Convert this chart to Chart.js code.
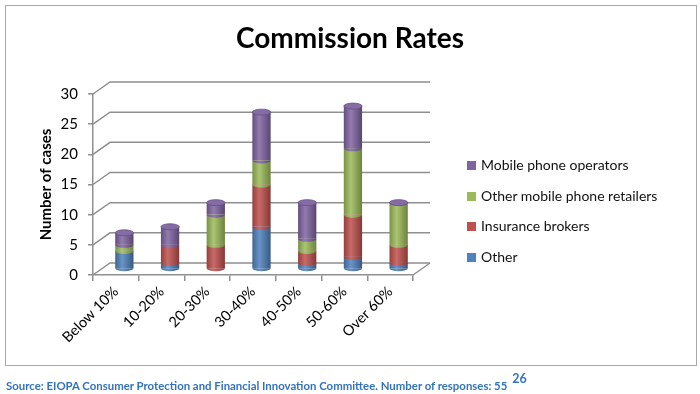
<!DOCTYPE html>
<html>
<head>
<meta charset="utf-8">
<script src="https://cdn.jsdelivr.net/npm/chart.js@4.4.1/dist/chart.umd.min.js"></script>
<style>
  html, body { margin: 0; padding: 0; background: #fff; }
  body { width: 700px; height: 394px; position: relative; overflow: hidden; font-family: Lato, "Open Sans", sans-serif; }
  #frame { position: absolute; left: 5px; top: 5px; width: 690px; height: 359px; border: 1.5px solid #a9a9a9; }
  #c { position: absolute; left: 0; top: 0; }
  #title { position: absolute; left: 0; width: 700px; top: 20px; text-align: center; font-size: 28px; line-height: 34px; font-weight: bold; color: #000; }
  #legend { position: absolute; left: 467px; top: 156px; font-size: 14px; color: #111; }
  #legend .item { height: 30.5px; display: flex; align-items: flex-start; white-space: nowrap; }
  #legend .sw { width: 9px; height: 9px; margin-top: 5px; margin-right: 5px; }
  #source { position: absolute; left: 6px; top: 373px; font-size: 11.4px; font-weight: bold; color: #3373bd; white-space: nowrap; }
  #source sup { font-size: 12.5px; position: relative; top: -2px; margin-left: 5px; }
</style>
</head>
<body>
<div id="frame"></div>
<canvas id="c" width="700" height="394"></canvas>
<div id="title">Commission Rates</div>
<div id="legend"></div>
<div id="source">Source: EIOPA Consumer Protection and Financial Innovation Committee. Number of responses: 55<sup>26</sup></div>
<script>
// ---- data ----
const categories = ['Below 10%', '10-20%', '20-30%', '30-40%', '40-50%', '50-60%', 'Over 60%'];
const seriesNames = ['Other', 'Insurance brokers', 'Other mobile phone retailers', 'Mobile phone operators'];
const otherValues      = [3, 1, 0, 7, 1, 2, 1];
const brokerValues     = [0, 3, 4, 7, 2, 7, 3];
const retailerValues   = [1, 0, 5, 4, 2, 11, 7];
const operatorValues   = [2, 3, 2, 8, 6, 7, 0];
const yTickValues      = [0, 5, 10, 15, 20, 25, 30];

const seriesColors = ['#4f81bd', '#c0504d', '#9bbb59', '#8064a2'];
const seriesData = [otherValues, brokerValues, retailerValues, operatorValues];

const DEPTH = { dx: 17, dy: -12 };
const BAR_PCT = 0.4;
const RY = 3;

function hexToRgb(h) { const n = parseInt(h.slice(1), 16); return [(n >> 16) & 255, (n >> 8) & 255, n & 255]; }
function shade(h, f) {
  const c = hexToRgb(h);
  const r = c.map(v => f >= 0 ? Math.round(v + (255 - v) * f) : Math.round(v * (1 + f)));
  return 'rgb(' + r.join(',') + ')';
}
function cylinderFill(ctx, col) {
  const chart = ctx.chart;
  const xs = chart.scales && chart.scales.x;
  if (!xs || !chart.chartArea || ctx.dataIndex === undefined) return col;
  const cx = xs.getPixelForValue(ctx.dataIndex);
  const w = (chart.chartArea.width / categories.length) * BAR_PCT;
  const g = chart.ctx.createLinearGradient(cx - w / 2, 0, cx + w / 2, 0);
  g.addColorStop(0, shade(col, -0.22));
  g.addColorStop(0.38, shade(col, 0.15));
  g.addColorStop(1, shade(col, -0.3));
  return g;
}

const threeD = {
  id: 'threeD',
  beforeDatasetsDraw(chart) {
    const { ctx, chartArea: a, scales: { x, y } } = chart;
    ctx.save();
    ctx.strokeStyle = '#8f8f8f';
    ctx.lineWidth = 1.5;
    yTickValues.forEach(v => {
      const py = y.getPixelForValue(v);
      ctx.beginPath();
      ctx.moveTo(a.left, py);
      ctx.lineTo(a.left + DEPTH.dx, py + DEPTH.dy);
      ctx.lineTo(a.right + DEPTH.dx, py + DEPTH.dy);
      ctx.stroke();
    });
    const y0 = y.getPixelForValue(0);
    ctx.beginPath();
    ctx.moveTo(a.right, y0);
    ctx.lineTo(a.right + DEPTH.dx, y0 + DEPTH.dy);
    ctx.stroke();
    ctx.restore();
    ctx.save();
    ctx.translate(DEPTH.dx / 2, DEPTH.dy / 2);
  },
  afterDatasetsDraw(chart) {
    const { ctx } = chart;
    const n = chart.data.datasets.length;
    for (let i = 0; i < n; i++) {
      const meta = chart.getDatasetMeta(i);
      meta.data.forEach((bar, j) => {
        const v = chart.data.datasets[i].data[j];
        if (!v) return;
        const p = bar.getProps(['x', 'base', 'width'], true);
        ctx.fillStyle = bar.options.backgroundColor;
        ctx.beginPath();
        ctx.ellipse(p.x, p.base, p.width / 2, RY, 0, 0, Math.PI);
        ctx.fill();
      });
    }
    const topMeta = chart.getDatasetMeta(n - 1);
    topMeta.data.forEach((bar) => {
      const p = bar.getProps(['x', 'y', 'width'], true);
      ctx.fillStyle = shade(seriesColors[n - 1], 0.05);
      ctx.beginPath();
      ctx.ellipse(p.x, p.y, p.width / 2, RY, 0, 0, Math.PI * 2);
      ctx.fill();
      ctx.strokeStyle = shade(seriesColors[n - 1], -0.2);
      ctx.lineWidth = 0.8;
      ctx.stroke();
    });
    ctx.restore();
  }
};

const datasets = seriesNames.map((name, i) => ({
  label: name,
  data: seriesData[i],
  backgroundColor: (c) => cylinderFill(c, seriesColors[i]),
  borderWidth: 0,
  barPercentage: BAR_PCT,
  categoryPercentage: 1,
  clip: false
}));

new Chart(document.getElementById('c'), {
  type: 'bar',
  data: { labels: categories, datasets },
  plugins: [threeD],
  options: {
    responsive: false,
    animation: false,
    layout: { padding: { left: 0, right: 287, top: 94, bottom: 0 } },
    plugins: {
      legend: { display: false },
      tooltip: { enabled: false },
      title: { display: false }
    },
    scales: {
      x: {
        stacked: true,
        offset: true,
        afterFit(s) { s.height = 119; },
        grid: { display: true, drawOnChartArea: false, offset: true, tickLength: 6, color: '#8f8f8f', lineWidth: 1.5 },
        border: { display: true, color: '#8f8f8f', width: 1.5 },
        ticks: { color: '#000', font: { family: 'Lato', size: 14.5 }, minRotation: 45, maxRotation: 45, padding: 2 }
      },
      y: {
        stacked: true,
        min: 0,
        max: 30,
        afterFit(s) { s.width = 93; },
        afterBuildTicks(s) { s.ticks = yTickValues.map(v => ({ value: v })); },
        grid: { display: true, drawOnChartArea: false, tickLength: 5, color: '#8f8f8f', lineWidth: 1.5 },
        border: { display: true, color: '#8f8f8f', width: 1.5 },
        ticks: { color: '#000', font: { family: 'Lato', size: 15 }, padding: 10 },
        title: { display: true, text: 'Number of cases', color: '#000', font: { family: 'Lato', size: 15, weight: 'bold' }, padding: { top: 37, bottom: 0 } }
      }
    }
  }
});

const lg = document.getElementById('legend');
for (let i = seriesNames.length - 1; i >= 0; i--) {
  const it = document.createElement('div');
  it.className = 'item';
  const sw = document.createElement('span');
  sw.className = 'sw';
  sw.style.background = seriesColors[i];
  const tx = document.createElement('span');
  tx.textContent = seriesNames[i];
  it.appendChild(sw); it.appendChild(tx);
  lg.appendChild(it);
}
</script>
</body>
</html>
